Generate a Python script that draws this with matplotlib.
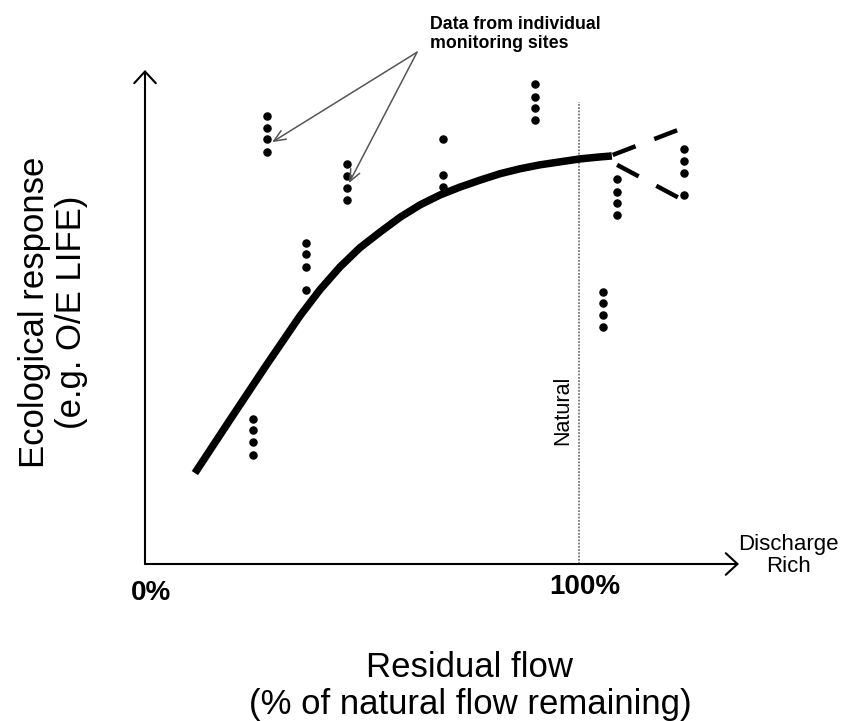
import numpy as np
import matplotlib
matplotlib.use("Agg")
import matplotlib.pyplot as plt

plt.rcParams['font.family'] = ['Liberation Sans', 'DejaVu Sans']

# ============================================
# DATA (x = % of natural flow, y = response units)
# ============================================
curve_x = [11.5, 19.6, 27.7, 35.7, 40.3, 44.9, 49.5, 54.2, 58.8, 63.4,
           68.0, 72.6, 77.2, 81.8, 86.4, 91.0, 95.6, 100.2, 104.8, 107.6]
curve_y = [18.4, 29.2, 39.9, 50.2, 55.5, 60.1, 64.0, 67.2, 70.2, 72.7,
           74.7, 76.3, 77.7, 79.0, 80.0, 80.8, 81.4, 82.0, 82.4, 82.6]

# dashed projections beyond natural flow
upper_x = [107.8, 126.5]
upper_y = [82.8, 89.1]
lower_x = [108.8, 126.5]
lower_y = [80.8, 72.5]

# monitoring site clusters
site_x = [28.1, 46.5, 68.7, 89.9, 108.8, 124.2, 105.5, 37.1, 24.9]
site_y = [
    [90.7, 88.3, 86.0, 83.4],
    [81.0, 78.5, 76.1, 73.7],
    [86.0, 78.7, 76.3],
    [97.2, 94.5, 92.3, 89.9],
    [77.9, 75.3, 73.1, 70.6],
    [84.0, 81.6, 79.1, 74.7],
    [55.1, 52.8, 50.4, 48.0],
    [65.0, 62.8, 60.1, 55.5],
    [29.4, 27.1, 24.7, 22.1],
]

natural_x = 100
natural_top = 93.5

note_xy = (62.7, 103.6)
note_targets = [(29.3, 85.4), (47.0, 77.1)]

# ============================================
# FIGURE
# ============================================
W, H = 842, 721
fig = plt.figure(figsize=(W / 100, H / 100), dpi=100)
ax = fig.add_axes([145 / W, (H - 564) / H, (739 - 145) / W, 494 / H])
ax.set_xlim(0, 136.9)
ax.set_ylim(0, 100)
ax.axis("off")

# axes with arrows
axis_arrow = dict(arrowstyle="->,head_length=0.4,head_width=0.37",
                  mutation_scale=21, lw=1.5, color="black",
                  shrinkA=0, shrinkB=0)
ax.annotate("", xy=(136.9, 0), xytext=(0, 0), arrowprops=axis_arrow,
            annotation_clip=False)
ax.annotate("", xy=(0, 100), xytext=(0, 0), arrowprops=axis_arrow,
            annotation_clip=False)

# natural line
ax.plot([natural_x, natural_x], [0, natural_top], color="#777777",
        lw=1.3, linestyle=(0, (1, 0.8)), clip_on=False)
ax.text(96.2, 31.2, "Natural", rotation=90, fontsize=15.5,
        ha="center", va="center")

# response curve
ax.plot(curve_x, curve_y, color="black", lw=5.4, solid_capstyle="butt",
        solid_joinstyle="round", clip_on=False)
ax.plot(upper_x, upper_y, color="black", lw=3.2, linestyle=(0, (5.5, 4.5)),
        dash_capstyle="butt", clip_on=False)
ax.plot(lower_x, lower_y, color="black", lw=3.2, linestyle=(0, (5.5, 4.5)),
        dash_capstyle="butt", clip_on=False)

# site dots
for sx, ys in zip(site_x, site_y):
    ax.scatter([sx] * len(ys), ys, s=26, color="black", zorder=3,
               clip_on=False)

# annotation
ax.text(65.7, 107.3, "Data from individual\nmonitoring sites",
        fontsize=12.8, fontweight="bold", ha="left", va="center",
        linespacing=1.15)
for tx, ty in note_targets:
    ax.annotate("", xy=(tx, ty), xytext=note_xy,
                arrowprops=dict(arrowstyle="->,head_length=0.7,head_width=0.3",
                                mutation_scale=12, lw=1.1, color="#555555",
                                shrinkA=0, shrinkB=0),
                annotation_clip=False)

# tick labels
ax.text(1.4, -5.9, "0%", fontsize=20, fontweight="bold", ha="center", va="center")
ax.text(101.4, -4.7, "100%", fontsize=20, fontweight="bold", ha="center", va="center")
ax.text(148.2, 1.8, "Discharge\nRich", fontsize=16, ha="center", va="center",
        linespacing=1.05)

# axis titles
fig.text(53 / W, 1 - 312 / H, "Ecological response\n(e.g. O/E LIFE)",
         rotation=90, fontsize=25, ha="center", va="center",
         multialignment="center", linespacing=1.15)
fig.text(470 / W, 1 - 686 / H, "Residual flow\n(% of natural flow remaining)",
         fontsize=25, ha="center", va="center", multialignment="center",
         linespacing=1.15)

fig.savefig("out.png", dpi=100)
